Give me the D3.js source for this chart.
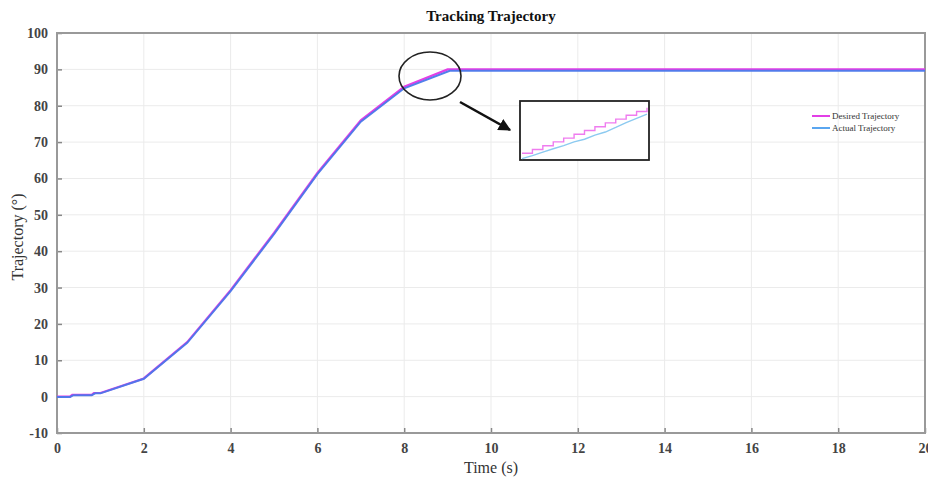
<!DOCTYPE html>
<html><head><meta charset="utf-8">
<script src="https://cdn.jsdelivr.net/npm/d3@7"></script>
<style>body{margin:0;background:#fff}svg{display:block}</style>
</head><body>
<svg id="c" width="928" height="479"></svg>
<script>
// ---- data ----
const desiredTime  = [0, 0.3, 0.35, 0.8, 0.85, 1, 2, 3, 4, 5, 6, 7, 8, 9, 20];
const desiredValue = [0, 0, 0.5, 0.5, 1, 1, 5, 15, 29.3, 45, 61.5, 76, 85.2, 90, 90];
const actualTime   = [0, 0.3, 0.38, 0.8, 0.88, 1, 2, 3, 4, 5, 6, 7, 8, 9.05, 20];
const actualValue  = [-0.1, -0.1, 0.4, 0.4, 0.9, 0.9, 4.9, 14.8, 29.0, 44.7, 61.2, 75.6, 84.8, 89.6, 89.6];
const insetTime    = [8.50, 8.52, 8.54, 8.56, 8.58, 8.60, 8.62, 8.64, 8.66, 8.68, 8.70, 8.72, 8.74];
const insetDesired = [87.50, 87.60, 87.70, 87.80, 87.90, 88.00, 88.10, 88.20, 88.30, 88.40, 88.50, 88.60, 88.70];
const insetActual  = [87.36, 87.44, 87.53, 87.62, 87.70, 87.80, 87.87, 87.98, 88.06, 88.18, 88.31, 88.42, 88.53];
const xTicks = [0, 2, 4, 6, 8, 10, 12, 14, 16, 18, 20];
const yTicks = [-10, 0, 10, 20, 30, 40, 50, 60, 70, 80, 90, 100];
const seriesNames = ["Desired Trajectory", "Actual Trajectory"];
const seriesColors = ["#e23fe6", "#5aa6f0"];

// ---- layout ----
const svg = d3.select("#c");
const L = 57, R = 925, T = 33, B = 433;
const x = d3.scaleLinear().domain([0, 20]).range([L, R]);
const y = d3.scaleLinear().domain([-10, 100]).range([B, T]);
const serif = "'Liberation Serif','Times New Roman',serif";

// grid
const g = svg.append("g");
g.selectAll(".gx").data(xTicks).join("line")
  .attr("x1", d => x(d)).attr("x2", d => x(d)).attr("y1", T).attr("y2", B)
  .attr("stroke", "#ebebeb").attr("stroke-width", 1);
g.selectAll(".gy").data(yTicks).join("line")
  .attr("y1", d => y(d)).attr("y2", d => y(d)).attr("x1", L).attr("x2", R)
  .attr("stroke", "#ebebeb").attr("stroke-width", 1);

// axes (ticks inside)
const xAxis = d3.axisBottom(x).tickValues(xTicks).tickSize(-5).tickPadding(10).tickFormat(d => String(d));
const yAxis = d3.axisLeft(y).tickValues(yTicks).tickSize(-5).tickPadding(9).tickFormat(d => String(d));
const ax = svg.append("g").attr("transform", `translate(0,${B})`).call(xAxis);
const ay = svg.append("g").attr("transform", `translate(${L},0)`).call(yAxis);
[ax, ay].forEach(a => {
  a.select(".domain").remove();
  a.selectAll(".tick line").attr("stroke", "#888").attr("stroke-width", 1.5);
  a.selectAll(".tick text").attr("font-family", serif).attr("font-size", 14)
    .attr("fill", "#444").attr("font-weight", "bold");
});
// box
svg.append("rect").attr("x", L).attr("y", T).attr("width", R - L).attr("height", B - T)
  .attr("fill", "none").attr("stroke", "#999").attr("stroke-width", 2);

// lines
const line = d3.line().x(d => x(d[0])).y(d => y(d[1]));
const desired = desiredTime.map((t, i) => [t, desiredValue[i]]);
const actual = actualTime.map((t, i) => [t, actualValue[i]]);
svg.append("path").attr("d", line(desired)).attr("fill", "none")
  .attr("stroke", seriesColors[0]).attr("stroke-width", 2.2);
svg.append("path").attr("d", line(actual)).attr("fill", "none")
  .attr("stroke", "#4a78ea").attr("stroke-width", 2).attr("stroke-opacity", 0.95);

// ellipse + arrow
svg.append("ellipse").attr("cx", 430).attr("cy", 76).attr("rx", 31).attr("ry", 24)
  .attr("fill", "none").attr("stroke", "#222").attr("stroke-width", 1.6);
svg.append("defs").append("marker").attr("id", "ah").attr("viewBox", "0 0 10 10")
  .attr("refX", 9).attr("refY", 5).attr("markerWidth", 5).attr("markerHeight", 5)
  .attr("orient", "auto").append("path").attr("d", "M0,0L10,5L0,10z").attr("fill", "#111");
svg.append("line").attr("x1", 460).attr("y1", 102).attr("x2", 510).attr("y2", 130)
  .attr("stroke", "#111").attr("stroke-width", 2.5).attr("marker-end", "url(#ah)");

// inset
const ix = d3.scaleLinear().domain([8.50, 8.74]).range([522, 647]);
const iy = d3.scaleLinear().domain([87.35, 88.85]).range([159, 102]);
svg.append("rect").attr("x", 520).attr("y", 101).attr("width", 129).attr("height", 59)
  .attr("fill", "#fff").attr("stroke", "#222").attr("stroke-width", 1.8);
const iline = d3.line().x(d => ix(d[0])).y(d => iy(d[1]));
svg.append("path").attr("d", iline.curve(d3.curveStepAfter)(insetTime.map((t, i) => [t, insetDesired[i]])))
  .attr("fill", "none").attr("stroke", "#ef7cef").attr("stroke-width", 1.4);
svg.append("path").attr("d", d3.line().x(d => ix(d[0])).y(d => iy(d[1]))(insetTime.map((t, i) => [t, insetActual[i]])))
  .attr("fill", "none").attr("stroke", "#8ccaf0").attr("stroke-width", 1.4);

// legend
const lg = svg.append("g").attr("transform", "translate(812,116)");
seriesNames.forEach((n, i) => {
  lg.append("line").attr("x1", 0).attr("x2", 18).attr("y1", i * 12).attr("y2", i * 12)
    .attr("stroke", seriesColors[i]).attr("stroke-width", 2);
  lg.append("text").attr("x", 20).attr("y", i * 12 + 3).text(n)
    .attr("font-family", serif).attr("font-size", 9).attr("fill", "#333");
});

// titles
svg.append("text").attr("x", 491).attr("y", 21).attr("text-anchor", "middle")
  .attr("font-family", serif).attr("font-weight", "bold").attr("font-size", 15).attr("fill", "#111")
  .text("Tracking Trajectory");
svg.append("text").attr("x", 491).attr("y", 473).attr("text-anchor", "middle")
  .attr("font-family", serif).attr("font-size", 16).attr("fill", "#333").text("Time (s)");
svg.append("text").attr("transform", "translate(23,237) rotate(-90)").attr("text-anchor", "middle")
  .attr("font-family", serif).attr("font-size", 16).attr("fill", "#333").text("Trajectory (°)");
</script>
</body></html>
